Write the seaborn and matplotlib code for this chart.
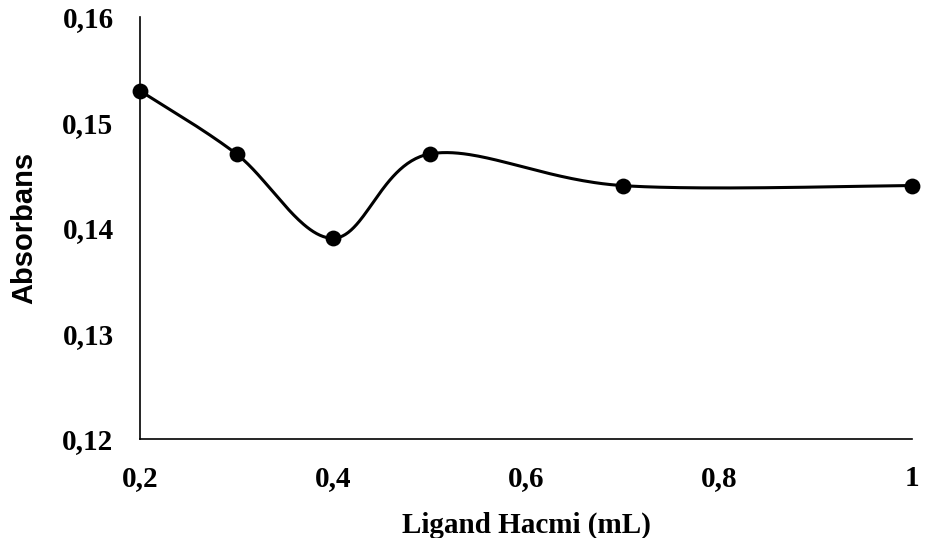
import numpy as np
import pandas as pd
import matplotlib
matplotlib.use("Agg")
import matplotlib.pyplot as plt
from matplotlib.ticker import FuncFormatter, FixedLocator
import seaborn as sns

# Measured absorbance versus added ligand volume
volume_ml = [0.2, 0.3, 0.4, 0.5, 0.7, 1.0]
absorbance = [0.153, 0.147, 0.139, 0.147, 0.144, 0.144]

x_ticks = [0.2, 0.4, 0.6, 0.8, 1.0]
y_ticks = [0.12, 0.13, 0.14, 0.15, 0.16]

sns.set_theme(style="white")
plt.rcParams["font.family"] = ["Liberation Serif", "DejaVu Serif"]
plt.rcParams["text.color"] = "black"
plt.rcParams["axes.labelcolor"] = "black"
plt.rcParams["xtick.color"] = "black"
plt.rcParams["ytick.color"] = "black"

fig = plt.figure(figsize=(9.25, 5.38), dpi=100)
ax = fig.add_axes([140 / 925, 1 - 438.5 / 538, (912 - 140) / 925, (438.5 - 17) / 538])
ax.set_xlim(0.2, 1.0)
ax.set_ylim(0.12, 0.16)


def smooth_curve(ax, xs, ys, n=60):
    """Catmull-Rom style smoothing done in display space, like a spreadsheet's smoothed line."""
    pts = ax.transData.transform(np.column_stack([xs, ys]))
    pts = np.vstack([pts[0], pts, pts[-1]])
    out = []
    t = np.linspace(0, 1, n)[:, None]
    for i in range(1, len(pts) - 2):
        p0, p1, p2, p3 = pts[i - 1], pts[i], pts[i + 1], pts[i + 2]
        c1 = p1 + (p2 - p0) / 6
        c2 = p2 - (p3 - p1) / 6
        seg = ((1 - t) ** 3) * p1 + 3 * ((1 - t) ** 2) * t * c1 + 3 * (1 - t) * t ** 2 * c2 + t ** 3 * p2
        out.append(seg if i == 1 else seg[1:])
    curve = ax.transData.inverted().transform(np.vstack(out))
    return curve[:, 0], curve[:, 1]


cx, cy = smooth_curve(ax, volume_ml, absorbance)
curve_df = pd.DataFrame({"Hacim": cx, "Absorbans": cy})
points_df = pd.DataFrame({"Hacim": volume_ml, "Absorbans": absorbance})

sns.lineplot(data=curve_df, x="Hacim", y="Absorbans", sort=False, estimator=None,
             color="black", linewidth=2.2, ax=ax, clip_on=False)
sns.scatterplot(data=points_df, x="Hacim", y="Absorbans", color="black", s=130,
                edgecolor="black", linewidth=0, ax=ax, clip_on=False, zorder=5)

ax.xaxis.set_major_locator(FixedLocator(x_ticks))
ax.yaxis.set_major_locator(FixedLocator(y_ticks))
ax.xaxis.set_major_formatter(FuncFormatter(lambda v, p: f"{v:g}".replace(".", ",")))
ax.yaxis.set_major_formatter(FuncFormatter(lambda v, p: f"{v:.2f}".replace(".", ",")))
ax.tick_params(axis="both", length=0, labelsize=21, labelcolor="black")
ax.tick_params(axis="x", pad=19)
ax.tick_params(axis="y", pad=19)
for lbl in ax.get_xticklabels() + ax.get_yticklabels():
    lbl.set_fontweight("bold")

for side in ["top", "right"]:
    ax.spines[side].set_visible(False)
for side in ["left", "bottom"]:
    ax.spines[side].set_color("black")
    ax.spines[side].set_linewidth(1.2)
ax.grid(False)

ax.set_xlabel("Ligand Hacmi (mL)", fontsize=21, fontweight="bold", labelpad=14, color="black")
ax.set_ylabel("Absorbans", fontsize=21, fontweight="bold", color="black",
              family=["Liberation Sans", "DejaVu Sans"], labelpad=17)

fig.savefig("out.png", dpi=100)
